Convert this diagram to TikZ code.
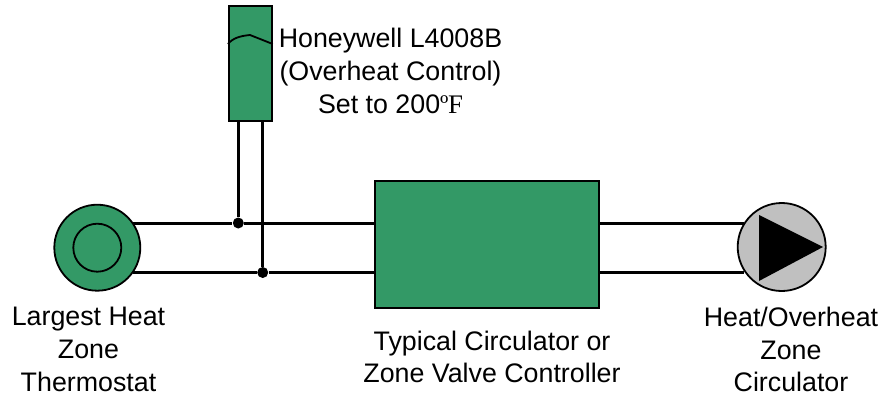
\documentclass[tikz,border=0pt]{standalone}
\usepackage{fontspec}
\usepackage{xcolor}
\setmainfont{Liberation Sans}
\newfontfamily\UnitFont{Liberation Serif}
\usetikzlibrary{calc,positioning}
\definecolor{Zone}{RGB}{51,153,102}
\definecolor{PumpGray}{RGB}{192,192,192}
\tikzset{
  wire/.style={line width=1.5pt, draw=black},
  partbox/.style={rectangle, draw=black, fill=Zone, line width=1.1pt, inner sep=0pt},
  ringnode/.style={circle, draw=black, line width=0.9pt, inner sep=0pt},
  junct/.style={circle, fill=black, inner sep=0pt, minimum size=5.5pt},
  lab/.style={font=\fontsize{13.4}{16.3}\selectfont, align=center, inner sep=0pt}
}
\begin{document}
\begin{tikzpicture}[x=0.5pt,y=-0.5pt]
  \useasboundingbox (0,0) rectangle (884,396);
  \node[partbox,minimum width=21.3pt,minimum height=57.5pt] (sensor) at (250.3,63.5) {};
  \node[partbox,minimum width=112pt,minimum height=63.5pt] (ctrl) at (487,244.5) {};
  \node[ringnode,fill=Zone,minimum size=43pt] (tstat) at (97.3,247.7) {};
  \node[ringnode,minimum size=24pt] (tstatin) at (tstat) {};
  \node[ringnode,fill=PumpGray,minimum size=44pt] (pump) at (781.7,247) {};
  % junctions on the two lines
  \node[junct] (jtop) at (238.3,223) {};
  \node[junct] (jbot) at (262.7,272.5) {};
  \coordinate (stop) at (jtop |- sensor.south);
  \coordinate (sbot) at (jbot |- sensor.south);
  \draw[wire] (stop) -- (jtop);
  \draw[wire] (sbot) -- (jbot);
  \draw[wire] (jtop -| tstat.35) -- (jtop) -- (jtop -| ctrl.west);
  \draw[wire] (jbot -| tstat.-35) -- (jbot) -- (jbot -| ctrl.west);
  \draw[wire] (jtop -| ctrl.east) -- (jtop -| pump.147);
  \draw[wire] (jbot -| ctrl.east) -- (jbot -| pump.213);
  \fill[black] ($(pump)+(-22.7,-32)$) -- ($(pump)+(41.3,0)$) -- ($(pump)+(-22.7,34)$) -- cycle;
  \draw[line width=0.9pt] (sensor.west |- 0,44) .. controls (233,38) and (240,36) .. (250,35) -- (sensor.east |- 0,44);
  \node[lab] (sensorlab) at (390.5,71) {Honeywell L4008B\\(Overheat Control)\\Set to 200{\UnitFont º\kern-0.2pt F}};
  \node[lab] (tstatlab) at (88.5,349.5) {Largest Heat\\Zone\\Thermostat};
  \node[lab] (ctrllab) at (492,357) {Typical Circulator or\\Zone Valve Controller};
  \node[lab] (pumplab) at (791,349.5) {Heat/Overheat\\Zone\\Circulator};
\end{tikzpicture}
\end{document}
